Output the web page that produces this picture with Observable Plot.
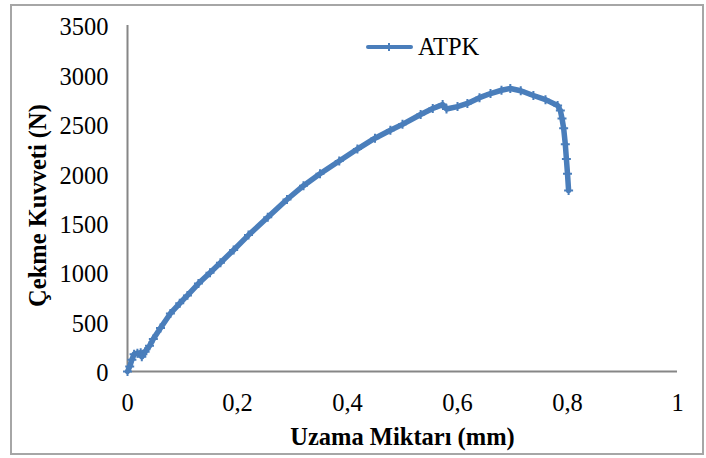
<!DOCTYPE html>
<html><head><meta charset="utf-8">
<script src="https://cdn.jsdelivr.net/npm/d3@7"></script>
<script src="https://cdn.jsdelivr.net/npm/@observablehq/plot@0.6"></script>
<style>
body{margin:0;background:#fff;}
#wrap{position:relative;width:706px;height:458px;font-family:"Liberation Serif","Times New Roman",serif;overflow:hidden;}
#frame{position:absolute;left:10px;top:4px;width:694px;height:451px;border:2px solid #a6a6a6;box-sizing:border-box;pointer-events:none;}
#legend{position:absolute;left:366px;top:33px;display:flex;align-items:center;font-size:24.5px;color:#000;}
#legend .sw{position:relative;width:47px;height:4px;background:#4a7ebb;border-radius:2px;margin-right:5px;}
#legend .sw i{position:absolute;left:22px;top:-2px;width:2px;height:8px;background:#4a7ebb;}
svg{display:block;}
</style>
</head><body>
<div id="wrap"><div id="chart"></div><div id="legend"><span class="sw"><i></i></span><span>ATPK</span></div><div id="frame"></div></div>
<script>
const seriesName = "ATPK";
const xTitle = "Uzama Miktarı (mm)";
const yTitle = "Çekme Kuvveti (N)";
const xTicks = [0, 0.2, 0.4, 0.6, 0.8, 1];
const yTicks = [0, 500, 1000, 1500, 2000, 2500, 3000, 3500];
const elongation = [0, 0.004, 0.008, 0.012, 0.018, 0.024, 0.028, 0.026, 0.032, 0.04, 0.047, 0.06, 0.078, 0.095, 0.109, 0.129, 0.15, 0.169, 0.193, 0.22, 0.255, 0.29, 0.32, 0.35, 0.385, 0.418, 0.45, 0.478, 0.5, 0.533, 0.555, 0.573, 0.58, 0.6, 0.618, 0.64, 0.66, 0.68, 0.696, 0.715, 0.738, 0.76, 0.782, 0.787, 0.79, 0.793, 0.796, 0.798, 0.8, 0.802];
const force = [0, 50, 120, 175, 185, 190, 175, 150, 200, 260, 330, 440, 587, 690, 770, 890, 1000, 1100, 1230, 1380, 1560, 1740, 1880, 2000, 2130, 2250, 2360, 2440, 2500, 2600, 2660, 2700, 2655, 2680, 2711, 2770, 2812, 2845, 2863, 2840, 2792, 2750, 2691, 2640, 2560, 2460, 2300, 2150, 2000, 1830];
const rows = elongation.map((x, i) => ({x, y: force[i]}));
const color = "#4a7ebb";
const fmtX = d => String(d).replace(".", ",");
const fmtY = d => String(d);
const chart = Plot.plot({
  width: 706, height: 458,
  marginLeft: 127, marginRight: 29, marginTop: 25, marginBottom: 87,
  style: {fontFamily: "'Liberation Serif','Times New Roman',serif", fontSize: "24px", color: "#000", background: "transparent"},
  x: {domain: [0, 1]},
  y: {domain: [0, 3500]},
  marks: [
    Plot.axisX({ticks: xTicks, tickSize: 0, tickPadding: 22, tickFormat: fmtX, label: null, fontSize: 24.5}),
    Plot.axisY({ticks: yTicks, tickSize: 0, tickPadding: 19, tickFormat: fmtY, label: null, fontSize: 24.5, dy: 2}),
    Plot.ruleY([0], {stroke: "#868686", strokeWidth: 2}),
    Plot.ruleX([0], {stroke: "#868686", strokeWidth: 2}),
    Plot.line(rows, {x: "x", y: "y", stroke: color, strokeWidth: 5.5, strokeLinejoin: "round"}),
    Plot.dot(rows, {x: "x", y: "y", symbol: "plus", r: 3, stroke: color, strokeWidth: 2}),
    Plot.text([xTitle], {frameAnchor: "bottom", lineAnchor: "middle", textAnchor: "middle", dy: 66, fontWeight: "bold", fontSize: 24.5, text: d => d}),
    Plot.text([yTitle], {frameAnchor: "left", lineAnchor: "middle", textAnchor: "middle", rotate: -90, dx: -89, dy: 7, fontWeight: "bold", fontSize: 24.5, text: d => d})
  ]
});
document.getElementById("chart").appendChild(chart);
</script>
</body></html>
